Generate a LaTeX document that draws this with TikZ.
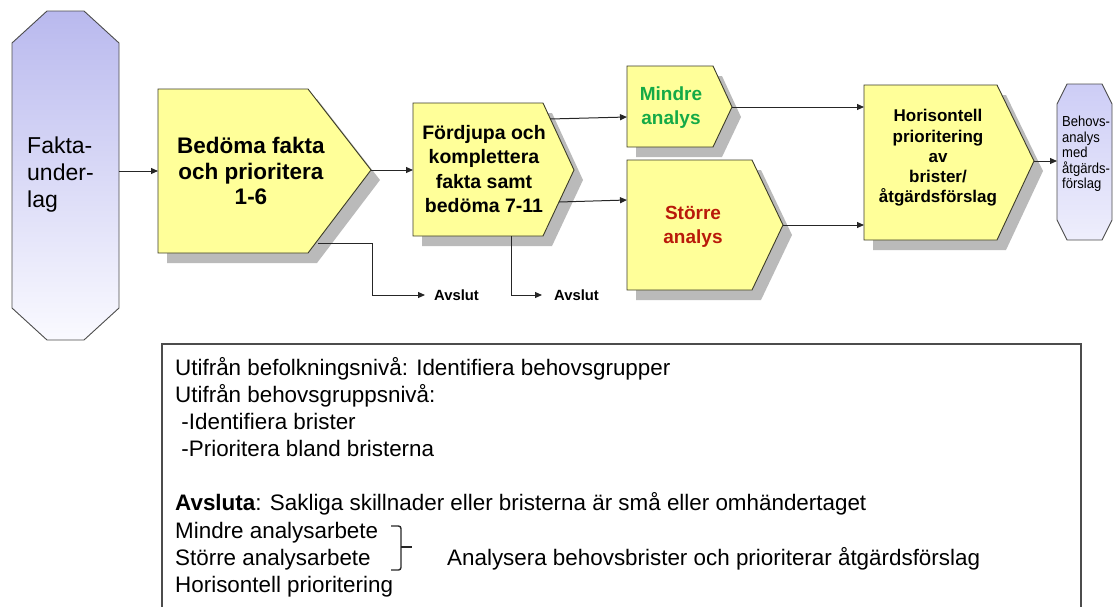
\documentclass[tikz,border=0pt]{standalone}
\usepackage{fontspec}
\setmainfont{Liberation Sans}
\newfontfamily\narrowfont[FakeStretch=0.9]{Liberation Sans}
\usetikzlibrary{arrows.meta}
\definecolor{procyellow}{RGB}{255,255,153}
\definecolor{procedge}{RGB}{60,60,40}
\definecolor{octtop}{RGB}{185,185,238}
\definecolor{octbot}{RGB}{250,250,255}
\definecolor{octtopb}{RGB}{205,205,246}
\definecolor{octbotb}{RGB}{238,238,252}
\definecolor{mgreen}{RGB}{20,170,70}
\definecolor{sred}{RGB}{185,25,10}
\tikzset{
  proc/.style={fill=procyellow, draw=procedge, line width=0.9pt},
  shade box/.style={fill=black!27},
  oct/.style={draw=black!70, line width=0.9pt},
  conn/.style={draw=black!85, line width=1pt, -{Triangle[length=7pt,width=6pt]}},
  boldtxt/.style={align=center, inner sep=0pt, font=\bfseries},
  bodytxt/.style={anchor=base west, inner sep=0pt, font=\fontsize{22.4}{27}\selectfont},
  avs/.style={anchor=west, inner ysep=2pt, font=\fontsize{14.8}{16}\selectfont\bfseries}
}
\begin{document}
\begin{tikzpicture}[x=1pt,y=-1pt]
\useasboundingbox (0,0) rectangle (1117,606);

% ---------- shadows ----------
\fill[shade box] (167,99) -- (317,99) -- (380,180) -- (317,263) -- (167,263) -- cycle;
\fill[shade box] (422,113) -- (552,113) -- (583,180) -- (552,246) -- (422,246) -- cycle;
\fill[shade box] (636,76) -- (722,76) -- (741,117) -- (722,157) -- (636,157) -- cycle;
\fill[shade box] (636,170) -- (761,170) -- (792,235) -- (761,300) -- (636,300) -- cycle;
\fill[shade box] (873,95) -- (1006,95) -- (1043,171) -- (1006,250) -- (873,250) -- cycle;

% ---------- octagon: Fakta-underlag ----------
\path[oct, top color=octtop, bottom color=octbot]
  (47,11) -- (84,11) -- (119,43) -- (119,308) -- (84,340) -- (47,340) -- (12,308) -- (12,43) -- cycle;
\node[anchor=west, align=left, inner sep=0pt, font=\fontsize{23}{27}\selectfont] (fakta) at (27,175) {Fakta-\\under-\\lag};

% ---------- process boxes ----------
\path[proc] (158,89) -- (308,89) -- (371,170) -- (308,253) -- (158,253) -- cycle;
\node[boldtxt, font=\fontsize{22.5}{25.5}\selectfont\bfseries] (bedoma) at (251,171) {Bedöma fakta\\och prioritera\\1-6};

\path[proc] (413,103) -- (543,103) -- (574,170) -- (543,236) -- (413,236) -- cycle;
\node[boldtxt, font=\fontsize{19.5}{24.5}\selectfont\bfseries] (fordjupa) at (484,169) {Fördjupa och\\komplettera\\fakta samt\\bedöma 7-11};

\path[proc] (627,66) -- (713,66) -- (732,107) -- (713,147) -- (627,147) -- cycle;
\node[boldtxt, text=mgreen, font=\fontsize{19}{24}\selectfont\bfseries] (mindre) at (671,108) {Mindre\\analys};

\path[proc] (627,160) -- (752,160) -- (783,225) -- (752,290) -- (627,290) -- cycle;
\node[boldtxt, text=sred, font=\fontsize{19}{23.5}\selectfont\bfseries] (storre) at (693,227) {Större\\analys};

\path[proc] (864,85) -- (997,85) -- (1034,161) -- (997,240) -- (864,240) -- cycle;
\node[boldtxt, font=\fontsize{17}{20.3}\selectfont\bfseries] (horis) at (938,158) {Horisontell\\prioritering\\av\\brister/\\åtgärdsförslag};

% ---------- octagon: Behovsanalys ----------
\path[oct, top color=octtopb, bottom color=octbotb]
  (1057,104) -- (1067,84) -- (1102,84) -- (1112,104) -- (1112,220) -- (1102,240) -- (1067,240) -- (1057,220) -- cycle;
\node[anchor=west, align=left, inner sep=0pt, font=\narrowfont\fontsize{14.5}{15.5}\selectfont] (behovs) at (1062,154) {Behovs-\\analys\\med\\åtgärds-\\förslag};

% ---------- anchor coordinates ----------
\coordinate (fk e) at (119,171);
\coordinate (bd w) at (158,171);
\coordinate (bd tip) at (371,170);
\coordinate (bd lo) at (318,243);
\coordinate (fd w) at (413,170);
\coordinate (fd up) at (550,119);
\coordinate (fd lo) at (559,202);
\coordinate (fd bot) at (511,236);
\coordinate (md w) at (627,117);
\coordinate (st w) at (627,200);
\coordinate (md tip) at (732,107);
\coordinate (st tip) at (783,225);
\coordinate (hz w1) at (864,107);
\coordinate (hz w2) at (864,225);
\coordinate (hz tip) at (1034,161);
\coordinate (bh w) at (1057,161);

\node[avs, inner xsep=9pt] (avs1) at (425,295) {Avslut};
\node[avs, inner xsep=12pt] (avs2) at (542,295) {Avslut};

% ---------- connectors ----------
\draw[conn] (fk e) -- (bd w);
\draw[conn] (bd tip) -- (fd w);
\draw[conn] (bd lo) -- (372,243) |- (avs1.west);
\draw[conn] (fd bot) |- (avs2.west);
\draw[conn] (fd up) -- (md w);
\draw[conn] (fd lo) -- (st w);
\draw[conn] (md tip) -- (hz w1);
\draw[conn] (st tip) -- (hz w2);
\draw[conn] (hz tip) -- (bh w);

% ---------- text frame ----------
\draw[black!70, line width=1.2pt] (162,607) -- (162,344) -- (1081,344) -- (1081,607);

\node[bodytxt] (t1) at (175,375.5) {Utifrån befolkningsnivå: Identifiera behovsgrupper};
\node[bodytxt] (t2) at (175,402.5) {Utifrån behovsgruppsnivå:};
\node[bodytxt] (t3) at (175,429.5) {\ -Identifiera brister};
\node[bodytxt] (t4) at (175,456.5) {\ -Prioritera bland bristerna};
\node[bodytxt] (t5) at (175,510.5) {\textbf{Avsluta}: Sakliga skillnader eller bristerna är små eller omhändertaget};
\node[bodytxt] (t6) at (175,538) {Mindre analysarbete};
\node[bodytxt] (t7) at (175,565) {Större analysarbete};
\node[bodytxt] (t8) at (175,592) {Horisontell prioritering};
\node[bodytxt] (t9) at (447,565) {Analysera behovsbrister och prioriterar åtgärdsförslag};

% brace
\draw[black!85, line width=1.4pt, rounded corners=2.5pt] (391,526) -- (401,526) -- (401,570) -- (391,570);
\draw[black!85, line width=1.4pt] (401,547) -- (412,547);
\end{tikzpicture}
\end{document}
